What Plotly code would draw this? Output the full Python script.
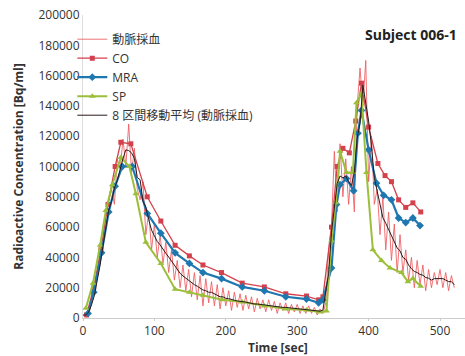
import plotly.graph_objects as go
import pandas as pd

# Arterial sampling (動脈採血)
art_t = list(range(0, 524, 4))
art_v = [1000, 3000, 2000, 10000, 20000, 28000, 40000, 52000, 70000, 78000,
         85000, 75000, 105000, 98000, 118000, 100000, 128000, 96000, 112000, 85000,
         78000, 90000, 55000, 70000, 45000, 62000, 40000, 55000, 36000, 50000,
         30000, 45000, 25000, 38000, 20000, 35000, 18000, 32000, 14000, 30000,
         12000, 28000, 8000, 26000, 10000, 24000, 8000, 22000, 6000, 20000,
         8000, 18000, 5000, 17000, 7000, 16000, 5000, 15000, 6000, 14000,
         4000, 13000, 6000, 12000, 4000, 12000, 5000, 11000, 3000, 10000,
         5000, 10000, 3000, 9000, 4000, 9000, 3000, 8000, 3000, 8000,
         3000, 7000, 2000, 6000, 3000, 10000, 45000, 60000, 110000, 70000,
         115000, 80000, 105000, 75000, 100000, 70000, 140000, 165000, 140000, 170000,
         90000, 120000, 75000, 85000, 55000, 80000, 45000, 70000, 38000, 62000,
         30000, 55000, 30000, 45000, 25000, 40000, 20000, 38000, 22000, 35000,
         18000, 32000, 20000, 30000, 22000, 32000, 20000, 30000, 18000, 28000,
         20000]

co_t = [5, 15, 25, 35, 45, 53, 67, 90, 109, 129, 149, 168, 194, 223, 254, 284, 313, 330, 336,
        348, 356, 364, 373, 382, 390, 400, 413, 423, 432, 442, 452, 462, 473]
co_v = [2000, 20000, 45000, 75000, 100000, 116000, 115000, 80000, 64000, 48000, 41000, 35000,
        30000, 23000, 20500, 16000, 14500, 12000, 14000,
        60000, 100000, 112000, 109000, 130000, 155000, 126000, 102000, 94000, 90000, 78000,
        73000, 76000, 70000]

mra_t = [7, 15, 26, 36, 45, 55, 69, 90, 109, 129, 149, 168, 194, 223, 254, 284, 313, 330, 336,
         348, 355, 360, 369, 379, 385, 390, 400, 411, 421, 432, 442, 452, 462, 472]
mra_v = [3000, 17000, 43000, 70000, 87000, 100000, 100000, 69000, 56000, 43000, 36000, 30000,
         26000, 20500, 18000, 14000, 12500, 10000, 12000,
         33000, 75000, 88000, 92000, 84000, 122000, 137000, 111000, 89000, 81000, 78000,
         66000, 63000, 66000, 61000]

sp_t = [4, 14, 24, 32, 41, 53, 65, 74, 88, 109, 129, 149, 168, 195, 223, 254, 284, 313, 331,
        341, 348, 354, 360, 369, 378, 383, 390, 397, 406, 418, 430, 446, 455, 462, 473]
sp_v = [6500, 23000, 48000, 71000, 88000, 106000, 100000, 82000, 50000, 36000, 19000, 17000,
        15000, 12000, 10500, 8000, 6000, 5300, 4000,
        4600, 51000, 76000, 110000, 96000, 96000, 142000, 148000, 96000, 45000, 38000,
        33000, 30000, 24000, 26000, 21000]

x_ticks = [0, 100, 200, 300, 400, 500]
y_ticks = [0, 20000, 40000, 60000, 80000, 100000, 120000, 140000, 160000, 180000, 200000]

ma = pd.Series(art_v).rolling(4, center=True, min_periods=1).mean()

fig = go.Figure()
fig.add_trace(go.Scatter(x=art_t, y=art_v, mode="lines", name="動脈採血",
                         line=dict(color="rgba(236,90,95,0.85)", width=1)))
fig.add_trace(go.Scatter(x=co_t, y=co_v, mode="lines+markers", name="CO",
                         line=dict(color="#d4414c", width=1.3),
                         marker=dict(symbol="square", size=5, color="#d4414c")))
fig.add_trace(go.Scatter(x=mra_t, y=mra_v, mode="lines+markers", name="MRA",
                         line=dict(color="#1f77b0", width=2.2),
                         marker=dict(symbol="diamond", size=6, color="#1f77b0")))
fig.add_trace(go.Scatter(x=sp_t, y=sp_v, mode="lines+markers", name="SP",
                         line=dict(color="#9bbf3a", width=2),
                         marker=dict(symbol="triangle-up", size=6, color="#9bbf3a")))
fig.add_trace(go.Scatter(x=art_t, y=ma, mode="lines", name="8 区間移動平均 (動脈採血)",
                         line=dict(color="#2a1a1a", width=1)))

fig.update_layout(
    width=465, height=356,
    margin=dict(l=83, r=0, t=15, b=38, autoexpand=False),
    paper_bgcolor="white", plot_bgcolor="white",
    font=dict(family="Open Sans, Noto Sans CJK JP, sans-serif", size=12, color="#333"),
    showlegend=True,
    legend=dict(x=-0.028, y=0.968, xanchor="left", yanchor="top",
                bgcolor="rgba(255,255,255,0)", font=dict(size=12, color="#333"),
                tracegroupgap=0, itemwidth=30),
    annotations=[
        dict(text="<b>Time [sec]</b>", x=0.51, y=-0.098, xref="paper", yref="paper",
             xanchor="center", yanchor="middle", showarrow=False,
             font=dict(size=12, color="#333")),
        dict(text="<b>Subject 006-1</b>", x=0.985, y=0.935, xref="paper", yref="paper",
             xanchor="right", yanchor="middle", showarrow=False,
             font=dict(size=14, color="#222")),
    ],
)
fig.update_xaxes(range=[0, 535], tickvals=x_ticks, showgrid=False, zeroline=False,
                 showline=True, linecolor="#ccc", ticks="outside", ticklen=2, tickcolor="#ccc",
                 automargin=False,
                 tickfont=dict(size=12, color="#333"))
fig.update_yaxes(range=[0, 200000], tickvals=y_ticks, tickformat="d", showgrid=False,
                 zeroline=False, showline=True, linecolor="#ddd", mirror=False,
                 automargin=False,
                 title=dict(text="<b>Radioactive Concentration [Bq/ml]</b>",
                            font=dict(size=12, color="#333"), standoff=12),
                 tickfont=dict(size=12, color="#333"))

fig.write_html("out.html", post_script="document.body.style.margin='0';",
               config={"displayModeBar": False})
